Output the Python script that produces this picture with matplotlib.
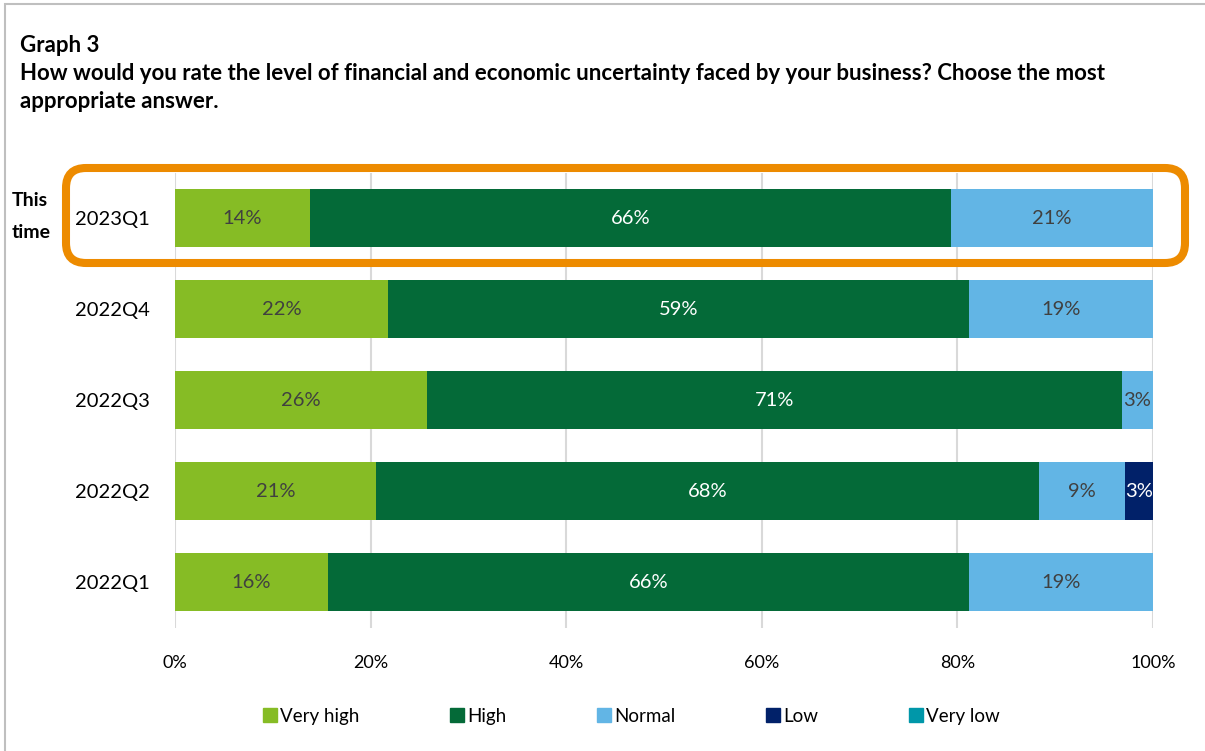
import matplotlib.pyplot as plt
import numpy as np
from matplotlib.patches import FancyBboxPatch, Rectangle
from matplotlib.lines import Line2D

plt.rcParams['font.family'] = ['Lato', 'DejaVu Sans']

quarters = ['2023Q1', '2022Q4', '2022Q3', '2022Q2', '2022Q1']
categories = ['Very high', 'High', 'Normal', 'Low', 'Very low']
colors = ['#86BC25', '#046A38', '#62B5E5', '#012169', '#0097A9']
label_colors = ['#404040', 'white', '#404040', 'white', 'white']

very_high = [13.8, 21.8, 25.8, 20.6, 15.6]
high = [65.6, 59.4, 71.0, 67.7, 65.6]
normal = [20.6, 18.8, 3.2, 8.8, 18.8]
low = [0.0, 0.0, 0.0, 2.9, 0.0]
very_low = [0.0, 0.0, 0.0, 0.0, 0.0]
series = [very_high, high, normal, low, very_low]

ticks = [0, 20, 40, 60, 80, 100]

fig = plt.figure(figsize=(12.05, 7.51), dpi=100)
ax = fig.add_axes([0.1452, 0.1644, 0.8116, 0.6059])

y = np.arange(len(quarters))
left = np.zeros(len(quarters))
for vals, name, col, lcol in zip(series, categories, colors, label_colors):
    vals = np.array(vals)
    bars = ax.barh(y, vals, left=left, height=0.64, color=col, label=name, zorder=3)
    for b, v in zip(bars, vals):
        if v > 0:
            ax.text(b.get_x() + b.get_width() / 2, b.get_y() + b.get_height() / 2,
                    f'{v:.0f}%', ha='center', va='center', color=lcol,
                    fontsize=14.5, zorder=4)
    left += vals

ax.set_xlim(0, 100)
ax.set_ylim(4.5, -0.5)
ax.set_yticks(y)
ax.set_yticklabels(quarters, fontsize=14.5)
ax.set_xticks(ticks)
ax.set_xticklabels([f'{t}%' for t in ticks], fontsize=13)
ax.tick_params(length=0)
ax.tick_params(axis='y', pad=18)
ax.tick_params(axis='x', pad=20)
ax.grid(axis='x', color='#D9D9D9', linewidth=1.5, zorder=0)
for s in ax.spines.values():
    s.set_visible(False)

leg = fig.legend(handles=[Line2D([], [], marker='s', linestyle='none', markersize=10,
                                 markerfacecolor=c, markeredgecolor=c, label=n)
                          for n, c in zip(categories, colors)],
                 loc='center', bbox_to_anchor=(0.523, 0.046), ncol=5, frameon=False,
                 fontsize=13.5, handletextpad=0.05, columnspacing=4.7, handlelength=1.0)

# titles
fig.text(20 / 1205, 1 - 45 / 751, 'Graph 3', fontsize=16, fontweight='bold', va='center')
fig.text(20 / 1205, 1 - 74 / 751,
         'How would you rate the level of financial and economic uncertainty faced by your business? Choose the most',
         fontsize=16, fontweight='bold', va='center')
fig.text(20 / 1205, 1 - 102 / 751, 'appropriate answer.',
         fontsize=16, fontweight='bold', va='center')

# highlight for the latest quarter
fig.text(30 / 1205, 1 - 200 / 751, 'This', fontsize=14, fontweight='bold',
         ha='center', va='center')
fig.text(31 / 1205, 1 - 233 / 751, 'time', fontsize=14, fontweight='bold',
         ha='center', va='center')
box = FancyBboxPatch((0.66, 4.88), 11.19, 0.95, boxstyle='round,pad=0,rounding_size=0.2',
                     transform=fig.dpi_scale_trans, fill=False, edgecolor='#ED8B00',
                     linewidth=5.8, zorder=10)
fig.patches.append(box)

# outer frame
frame = Rectangle((0.05, -0.1), 12.2, 7.57, transform=fig.dpi_scale_trans, fill=False,
                  edgecolor='#BFBFBF', linewidth=1.5)
fig.patches.append(frame)

fig.savefig('out.png', dpi=100)
